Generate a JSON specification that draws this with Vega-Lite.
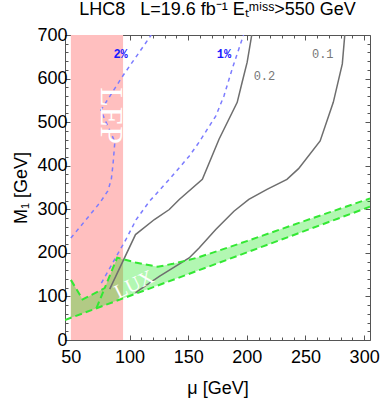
{
  "$schema": "https://vega.github.io/schema/vega-lite/v6.json",
  "width": 305,
  "height": 305,
  "autosize": {"type": "none"},
  "padding": {"left": 65, "top": 35, "right": 12, "bottom": 58},
  "background": "white",
  "config": {"view": {"stroke": "#555555", "strokeWidth": 1}, "font": "Liberation Sans"},
  "title": {"text": "LHC8\u00a0\u00a0\u00a0L=19.6 fb⁻¹ Eₜᵐⁱˢˢ>550 GeV", "fontSize": 18, "fontWeight": "normal", "font": "Liberation Sans", "anchor": "middle", "offset": 7, "color": "#000000"},
  "datasets": {
    "lep": [{"x0": 50, "x1": 94.5, "y0": 0, "y1": 700}],
    "lux": [
      {"mu": 50, "lo": 51, "hi": 138},
      {"mu": 60, "lo": 61, "hi": 93},
      {"mu": 78.8, "lo": 79.8, "hi": 119},
      {"mu": 89.5, "lo": 90.5, "hi": 189},
      {"mu": 105, "lo": 106, "hi": 178},
      {"mu": 124, "lo": 125, "hi": 168},
      {"mu": 137, "lo": 138, "hi": 175},
      {"mu": 151, "lo": 152, "hi": 184},
      {"mu": 159, "lo": 160, "hi": 190},
      {"mu": 176, "lo": 177, "hi": 205},
      {"mu": 200, "lo": 201, "hi": 227},
      {"mu": 250, "lo": 251, "hi": 274},
      {"mu": 305, "lo": 306, "hi": 325}
    ],
    "gray": [
      {"s": "0.2", "o": 1, "mu": 83.1, "m": 116.8},
      {"s": "0.2", "o": 2, "mu": 105.1, "m": 241.9},
      {"s": "0.2", "o": 3, "mu": 121.2, "m": 276.5},
      {"s": "0.2", "o": 4, "mu": 133.9, "m": 299.5},
      {"s": "0.2", "o": 5, "mu": 142.4, "m": 322.6},
      {"s": "0.2", "o": 6, "mu": 162.1, "m": 368.7},
      {"s": "0.2", "o": 7, "mu": 176.3, "m": 460.8},
      {"s": "0.2", "o": 8, "mu": 191.8, "m": 545.4},
      {"s": "0.2", "o": 9, "mu": 196.0, "m": 591.5},
      {"s": "0.2", "o": 10, "mu": 200.3, "m": 637.6},
      {"s": "0.2", "o": 11, "mu": 204.2, "m": 700},
      {"s": "0.1", "o": 1, "mu": 105.1, "m": 108.3},
      {"s": "0.1", "o": 2, "mu": 108.5, "m": 115.2},
      {"s": "0.1", "o": 3, "mu": 125.4, "m": 145.9},
      {"s": "0.1", "o": 4, "mu": 150.8, "m": 188.2},
      {"s": "0.1", "o": 5, "mu": 159.3, "m": 211.3},
      {"s": "0.1", "o": 6, "mu": 173.5, "m": 253.5},
      {"s": "0.1", "o": 7, "mu": 189.0, "m": 295.6},
      {"s": "0.1", "o": 8, "mu": 201.7, "m": 322.6},
      {"s": "0.1", "o": 9, "mu": 217.2, "m": 345.6},
      {"s": "0.1", "o": 10, "mu": 234.2, "m": 368.7},
      {"s": "0.1", "o": 11, "mu": 244.1, "m": 393.3},
      {"s": "0.1", "o": 12, "mu": 262.5, "m": 456.9},
      {"s": "0.1", "o": 13, "mu": 273.7, "m": 545.4},
      {"s": "0.1", "o": 14, "mu": 281.4, "m": 633.6},
      {"s": "0.1", "o": 15, "mu": 283.5, "m": 700}
    ],
    "blue": [
      {"s": "2%", "o": 1, "mu": 50, "m": 234},
      {"s": "2%", "o": 2, "mu": 65, "m": 283},
      {"s": "2%", "o": 3, "mu": 75, "m": 316},
      {"s": "2%", "o": 4, "mu": 81.5, "m": 342},
      {"s": "2%", "o": 5, "mu": 84.5, "m": 369},
      {"s": "2%", "o": 6, "mu": 86, "m": 405},
      {"s": "2%", "o": 7, "mu": 87.5, "m": 455},
      {"s": "2%", "o": 8, "mu": 75.5, "m": 527},
      {"s": "2%", "o": 9, "mu": 94.5, "m": 607},
      {"s": "2%", "o": 10, "mu": 118.5, "m": 700},
      {"s": "1%", "o": 1, "mu": 76.0, "m": 130.6},
      {"s": "1%", "o": 2, "mu": 97.2, "m": 232},
      {"s": "1%", "o": 3, "mu": 105.7, "m": 276.5},
      {"s": "1%", "o": 4, "mu": 116.9, "m": 318},
      {"s": "1%", "o": 5, "mu": 133.9, "m": 368.7},
      {"s": "1%", "o": 6, "mu": 150.8, "m": 421.7},
      {"s": "1%", "o": 7, "mu": 159.3, "m": 454},
      {"s": "1%", "o": 8, "mu": 173.5, "m": 514},
      {"s": "1%", "o": 9, "mu": 180.5, "m": 560},
      {"s": "1%", "o": 10, "mu": 187.5, "m": 622},
      {"s": "1%", "o": 11, "mu": 193.2, "m": 668},
      {"s": "1%", "o": 12, "mu": 197.2, "m": 700}
    ],
    "green": [
      {"s": "low", "o": 1, "mu": 45, "m": 46},
      {"s": "low", "o": 2, "mu": 305, "m": 306},
      {"s": "steep", "o": 1, "mu": 71.8, "m": 73},
      {"s": "steep", "o": 2, "mu": 78.8, "m": 119},
      {"s": "up", "o": 1, "mu": 50, "m": 138},
      {"s": "up", "o": 2, "mu": 60, "m": 93},
      {"s": "up", "o": 3, "mu": 78.8, "m": 119},
      {"s": "up", "o": 4, "mu": 89.5, "m": 189},
      {"s": "up", "o": 5, "mu": 105, "m": 178},
      {"s": "up", "o": 6, "mu": 124, "m": 168},
      {"s": "up", "o": 7, "mu": 137, "m": 175},
      {"s": "up", "o": 8, "mu": 151, "m": 184},
      {"s": "up", "o": 9, "mu": 159, "m": 190},
      {"s": "up", "o": 10, "mu": 176, "m": 205},
      {"s": "up", "o": 11, "mu": 200, "m": 227},
      {"s": "up", "o": 12, "mu": 250, "m": 274},
      {"s": "up", "o": 13, "mu": 305, "m": 325}
    ],
    "bigtext": [
      {"t": "LEP", "mu": 84.5, "m": 515, "a": 90, "sz": 32},
      {"t": "LUX", "mu": 104, "m": 127, "a": -26, "sz": 20}
    ],
    "graylab": [
      {"t": "0.2", "mu": 215, "m": 605},
      {"t": "0.1", "mu": 264.7, "m": 657}
    ],
    "bluelab": [
      {"t": "2%", "mu": 92.4, "m": 657},
      {"t": "1%", "mu": 180.5, "m": 657}
    ]
  },
  "layer": [
    {
      "data": {"name": "lep"},
      "mark": {"type": "rect", "color": "#ffbfbf", "opacity": 1},
      "encoding": {
        "x": {"field": "x0", "type": "quantitative", "scale": {"domain": [45, 305], "nice": false, "zero": false},
          "axis": {"orient": "bottom", "offset": 0, "values": [50, 100, 150, 200, 250, 300], "tickSize": -5, "tickColor": "#555555", "domain": false, "grid": false,
            "labelFontSize": 18, "labelColor": "#000000", "labelPadding": 13, "labelFont": "Liberation Sans",
            "title": "μ [GeV]", "titleFontSize": 18, "titleFontWeight": "normal", "titleColor": "#000000", "titleFont": "Liberation Sans", "titlePadding": 13}},
        "x2": {"field": "x1"},
        "y": {"field": "y0", "type": "quantitative", "scale": {"domain": [0, 700], "nice": false, "zero": false},
          "axis": {"orient": "left", "offset": 0, "values": [0, 100, 200, 300, 400, 500, 600, 700], "tickSize": -5, "tickColor": "#555555", "domain": false, "grid": false,
            "labelFontSize": 18, "labelColor": "#000000", "labelPadding": 3, "labelFont": "Liberation Sans",
            "title": "M₁ [GeV]", "titleFontSize": 18, "titleFontWeight": "normal", "titleColor": "#000000", "titleFont": "Liberation Sans", "titlePadding": 6}},
        "y2": {"field": "y1"}
      }
    },
    {
      "data": {"name": "lux"},
      "mark": {"type": "area", "color": "#00e600", "opacity": 0.3},
      "encoding": {
        "x": {"field": "mu", "type": "quantitative", "scale": {"domain": [45, 305], "nice": false, "zero": false},
          "axis": {"orient": "bottom", "offset": 0, "values": [60, 70, 80, 90, 110, 120, 130, 140, 160, 170, 180, 190, 210, 220, 230, 240, 260, 270, 280, 290], "tickSize": -3, "tickColor": "#555555", "domain": false, "grid": false, "labels": false, "title": null}},
        "y": {"field": "hi", "type": "quantitative", "scale": {"domain": [0, 700], "nice": false, "zero": false},
          "axis": {"orient": "left", "offset": 0, "values": [20, 40, 60, 80, 120, 140, 160, 180, 220, 240, 260, 280, 320, 340, 360, 380, 420, 440, 460, 480, 520, 540, 560, 580, 620, 640, 660, 680], "tickSize": -3, "tickColor": "#555555", "domain": false, "grid": false, "labels": false, "title": null}},
        "y2": {"field": "lo"}
      }
    },
    {
      "data": {"name": "gray"},
      "mark": {"type": "line", "color": "#6e6e6e", "strokeWidth": 1.5, "clip": true},
      "encoding": {
        "x": {"field": "mu", "type": "quantitative", "scale": {"domain": [45, 305], "nice": false, "zero": false},
          "axis": {"orient": "top", "offset": 0, "values": [50, 100, 150, 200, 250, 300], "tickSize": -5, "tickColor": "#555555", "domain": false, "grid": false, "labels": false, "title": null}},
        "y": {"field": "m", "type": "quantitative", "scale": {"domain": [0, 700], "nice": false, "zero": false},
          "axis": {"orient": "right", "offset": 0, "values": [0, 100, 200, 300, 400, 500, 600, 700], "tickSize": -5, "tickColor": "#555555", "domain": false, "grid": false, "labels": false, "title": null}},
        "detail": {"field": "s"},
        "order": {"field": "o", "type": "quantitative"}
      }
    },
    {
      "data": {"name": "blue"},
      "mark": {"type": "line", "color": "#7c7cff", "strokeWidth": 1.5, "strokeDash": [4, 4], "clip": true},
      "encoding": {
        "x": {"field": "mu", "type": "quantitative", "scale": {"domain": [45, 305], "nice": false, "zero": false},
          "axis": {"orient": "top", "offset": 0, "values": [60, 70, 80, 90, 110, 120, 130, 140, 160, 170, 180, 190, 210, 220, 230, 240, 260, 270, 280, 290], "tickSize": -3, "tickColor": "#555555", "domain": false, "grid": false, "labels": false, "title": null}},
        "y": {"field": "m", "type": "quantitative", "scale": {"domain": [0, 700], "nice": false, "zero": false},
          "axis": {"orient": "right", "offset": 0, "values": [20, 40, 60, 80, 120, 140, 160, 180, 220, 240, 260, 280, 320, 340, 360, 380, 420, 440, 460, 480, 520, 540, 560, 580, 620, 640, 660, 680], "tickSize": -3, "tickColor": "#555555", "domain": false, "grid": false, "labels": false, "title": null}},
        "detail": {"field": "s"},
        "order": {"field": "o", "type": "quantitative"}
      }
    },
    {
      "data": {"name": "green"},
      "mark": {"type": "line", "color": "#33e833", "strokeWidth": 2, "strokeDash": [7, 4], "clip": true},
      "encoding": {
        "x": {"field": "mu", "type": "quantitative", "scale": {"domain": [45, 305], "nice": false, "zero": false}, "axis": null},
        "y": {"field": "m", "type": "quantitative", "scale": {"domain": [0, 700], "nice": false, "zero": false}, "axis": null},
        "detail": {"field": "s"},
        "order": {"field": "o", "type": "quantitative"}
      }
    },
    {
      "data": {"name": "bigtext"},
      "mark": {"type": "text", "color": "#ffffff", "font": "Liberation Serif", "align": "center", "baseline": "middle"},
      "encoding": {
        "x": {"field": "mu", "type": "quantitative", "scale": {"domain": [45, 305], "nice": false, "zero": false}, "axis": null},
        "y": {"field": "m", "type": "quantitative", "scale": {"domain": [0, 700], "nice": false, "zero": false}, "axis": null},
        "text": {"field": "t"},
        "angle": {"field": "a", "type": "quantitative", "scale": null},
        "size": {"field": "sz", "type": "quantitative", "scale": null}
      }
    },
    {
      "data": {"name": "graylab"},
      "mark": {"type": "text", "color": "#777777", "font": "Liberation Mono", "fontSize": 12, "align": "center", "baseline": "middle"},
      "encoding": {
        "x": {"field": "mu", "type": "quantitative", "scale": {"domain": [45, 305], "nice": false, "zero": false}, "axis": null},
        "y": {"field": "m", "type": "quantitative", "scale": {"domain": [0, 700], "nice": false, "zero": false}, "axis": null},
        "text": {"field": "t"}
      }
    },
    {
      "data": {"name": "bluelab"},
      "mark": {"type": "text", "color": "#1a1aff", "font": "Liberation Mono", "fontSize": 12, "fontWeight": "bold", "align": "center", "baseline": "middle"},
      "encoding": {
        "x": {"field": "mu", "type": "quantitative", "scale": {"domain": [45, 305], "nice": false, "zero": false}, "axis": null},
        "y": {"field": "m", "type": "quantitative", "scale": {"domain": [0, 700], "nice": false, "zero": false}, "axis": null},
        "text": {"field": "t"}
      }
    }
  ],
  "resolve": {"axis": {"x": "independent", "y": "independent"}}
}
